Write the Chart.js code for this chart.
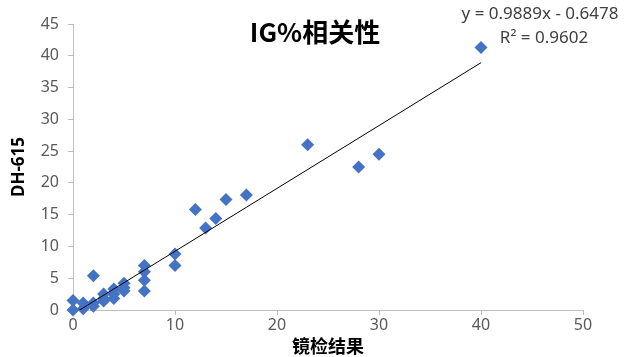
<!DOCTYPE html>
<html>
<head>
<meta charset="utf-8">
<script src="https://cdn.jsdelivr.net/npm/chart.js@4/dist/chart.umd.min.js"></script>
<style>
  html, body { margin: 0; padding: 0; background: #fff; }
  #wrap { width: 630px; height: 357px; position: relative; }
</style>
</head>
<body>
<div id="wrap"><canvas id="c" width="630" height="357"></canvas></div>
<script>
const titleText = 'IG%相关性';
const xTitle = '镜检结果';
const yTitle = 'DH-615';
const equationText = 'y = 0.9889x - 0.6478';
const r2Text = 'R² = 0.9602';

const xValues = [0, 0, 1, 1, 2, 2, 2, 3, 3, 3, 4, 4, 4, 5, 5, 5, 7, 7, 7, 7, 10, 10, 12, 13, 14, 15, 17, 23, 28, 30, 40];
const yValues = [1.5, 0, 1.1, 0.2, 0.6, 1.1, 5.4, 2.5, 1.8, 1.4, 3.3, 2.5, 1.8, 4.2, 3.5, 3.0, 7.0, 6.0, 4.7, 3.0, 8.8, 7.0, 15.8, 12.9, 14.4, 17.4, 18.1, 26.0, 22.5, 24.5, 41.3];

const slope = 0.9889;
const intercept = -0.6478;
const trendX = [0, 40];

const xTicks = [0, 10, 20, 30, 40, 50];
const yTicks = [0, 5, 10, 15, 20, 25, 30, 35, 40, 45];

const points = xValues.map((x, i) => ({ x: x, y: yValues[i] }));
const trend = trendX.map(x => ({ x: x, y: slope * x + intercept }));

const CJK = '"Noto Sans CJK SC", "Noto Sans", sans-serif';
const LAT = '"Noto Sans", "Open Sans", sans-serif';

const textPlugin = {
  id: 'texts',
  afterDraw(chart) {
    const ctx = chart.ctx;
    ctx.save();
    ctx.fillStyle = '#000';
    ctx.textAlign = 'center';
    ctx.textBaseline = 'middle';
    ctx.font = 'bold 26px ' + CJK;
    ctx.fillText(titleText, 315, 32);
    ctx.fillStyle = '#404040';
    ctx.font = '17px ' + LAT;
    ctx.fillText(equationText, 540, 14);
    ctx.fillText(r2Text, 544, 38);
    ctx.restore();
  }
};

new Chart(document.getElementById('c'), {
  type: 'scatter',
  data: {
    datasets: [
      {
        data: points,
        pointStyle: 'rectRot',
        pointRadius: 6.5,
        pointHoverRadius: 6.5,
        backgroundColor: '#4472C4',
        borderColor: '#4472C4',
        borderWidth: 0,
        clip: false,
        order: 2
      },
      {
        type: 'line',
        data: trend,
        borderColor: '#000',
        borderWidth: 1,
        pointRadius: 0,
        fill: false,
        showLine: true,
        order: 1
      }
    ]
  },
  options: {
    responsive: false,
    animation: false,
    events: [],
    layout: { padding: { top: 24, right: 47, left: 0, bottom: 0 } },
    plugins: { legend: { display: false }, tooltip: { enabled: false }, title: { display: false } },
    scales: {
      x: {
        type: 'linear',
        min: 0, max: 50,
        afterBuildTicks(axis) { axis.ticks = xTicks.map(v => ({ value: v })); },
        afterFit(axis) { axis.height = 47; },
        grid: { drawOnChartArea: false, drawTicks: true, tickLength: 5, color: '#bfbfbf' },
        border: { color: '#bfbfbf', width: 1 },
        ticks: { color: '#595959', font: { family: LAT, size: 16 }, padding: 1, maxRotation: 0 },
        title: { display: true, text: xTitle, color: '#000', font: { family: CJK, size: 18, weight: 'bold' }, padding: { top: -9, bottom: 0 } }
      },
      y: {
        type: 'linear',
        min: 0, max: 45,
        afterBuildTicks(axis) { axis.ticks = yTicks.map(v => ({ value: v })); },
        afterFit(axis) { axis.width = 73; },
        grid: { drawOnChartArea: false, drawTicks: true, tickLength: 5, color: '#bfbfbf' },
        border: { color: '#bfbfbf', width: 1 },
        ticks: { color: '#595959', font: { family: LAT, size: 16 }, padding: 9 },
        title: { display: true, text: yTitle, color: '#000', font: { family: LAT, size: 17, weight: 'bold' }, padding: { top: 9, bottom: 0 } }
      }
    }
  },
  plugins: [textPlugin]
});
</script>
</body>
</html>
